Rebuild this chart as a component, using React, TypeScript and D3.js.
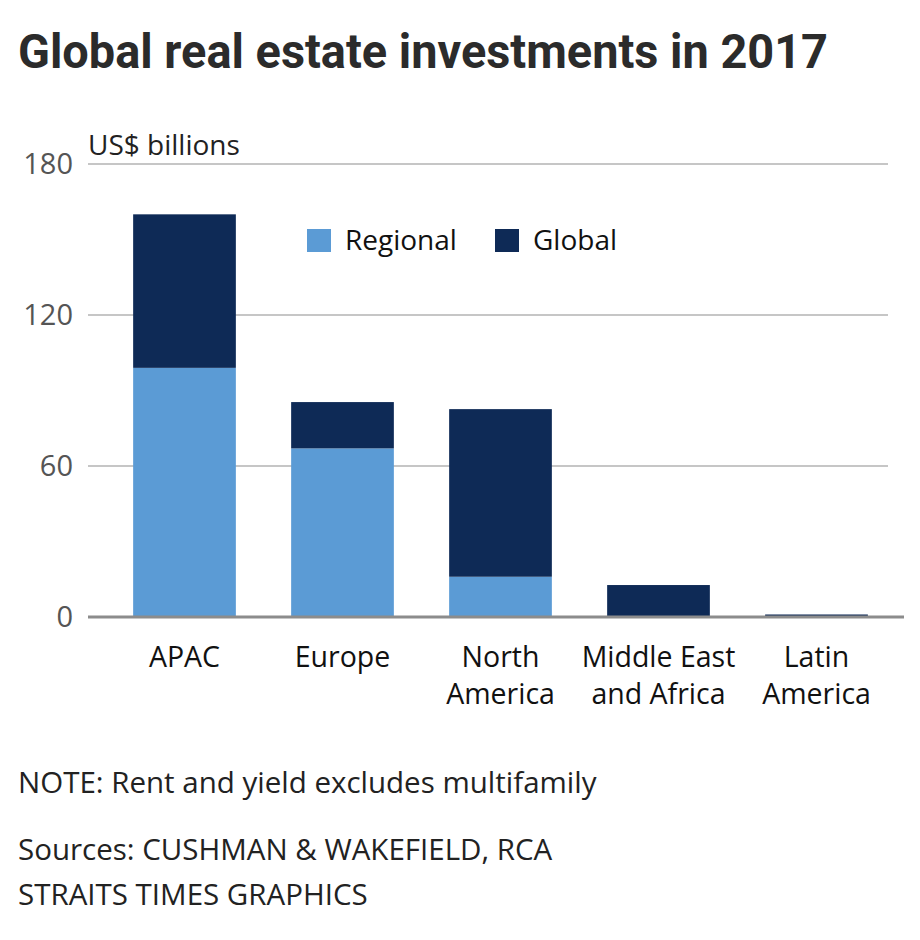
import * as d3 from "d3"

const categories = ["APAC", "Europe", "North America", "Middle East and Africa", "Latin America"]
const categoryLines = [["APAC"], ["Europe"], ["North", "America"], ["Middle East", "and Africa"], ["Latin", "America"]]
const regional = [99, 67, 16, 0, 0]
const global = [61, 18.4, 66.6, 12.7, 1]
const yTicks = [0, 60, 120, 180]
const seriesNames = ["Regional", "Global"]

const REGIONAL_COLOR = "#5b9bd5"
const GLOBAL_COLOR = "#0e2a56"
const FONT = "'Open Sans', Roboto, sans-serif"

export default function App() {
  const width = 920
  const height = 940

  const x = d3
    .scaleBand<string>()
    .domain(categories)
    .range([105.5, 895.5])
    .paddingInner(0.35)
    .paddingOuter(0.175)

  const y = d3.scaleLinear().domain([0, 180]).range([617, 164])

  const stacked = categories.map((c, i) => ({
    name: c,
    lines: categoryLines[i],
    regional: regional[i],
    global: global[i],
  }))

  return (
    <svg
      width={width}
      height={height}
      style={{ position: "absolute", left: 0, top: 0, background: "#fff" }}
      fontFamily={FONT}
    >
      {/* Title */}
      <text
        x={18}
        y={68}
        fontFamily="Roboto, sans-serif"
        fontWeight={700}
        fontSize={48}
        fill="#2b2b2b"
        textLength={810}
        lengthAdjust="spacingAndGlyphs"
      >
        Global real estate investments in 2017
      </text>

      {/* Unit label */}
      <text x={88} y={155} fontSize={28} fill="#222">
        US$ billions
      </text>

      {/* Grid lines + y tick labels */}
      {yTicks.map((t) => (
        <g key={t}>
          {t !== 0 && (
            <line x1={88} x2={888} y1={y(t)} y2={y(t)} stroke="#b3b3b3" strokeWidth={1.5} />
          )}
          <text
            x={73}
            y={y(t)}
            dy="0.35em"
            textAnchor="end"
            fontSize={29}
            fill="#555"
          >
            {t}
          </text>
        </g>
      ))}

      {/* Bars */}
      {stacked.map((d) => (
        <g key={d.name}>
          {d.regional > 0 && (
            <rect
              x={x(d.name)}
              width={x.bandwidth()}
              y={y(d.regional)}
              height={y(0) - y(d.regional)}
              fill={REGIONAL_COLOR}
            />
          )}
          <rect
            x={x(d.name)}
            width={x.bandwidth()}
            y={y(d.regional + d.global)}
            height={y(d.regional) - y(d.regional + d.global)}
            fill={GLOBAL_COLOR}
          />
        </g>
      ))}

      {/* Baseline */}
      <line x1={88} x2={904} y1={y(0)} y2={y(0)} stroke="#8c8c8c" strokeWidth={3} />

      {/* Category labels */}
      {stacked.map((d) => (
        <text
          key={d.name}
          x={(x(d.name) || 0) + x.bandwidth() / 2}
          y={667}
          textAnchor="middle"
          fontSize={28.5}
          fill="#111"
        >
          {d.lines.map((l, j) => (
            <tspan key={j} x={(x(d.name) || 0) + x.bandwidth() / 2} dy={j === 0 ? 0 : 37}>
              {l}
            </tspan>
          ))}
        </text>
      ))}

      {/* Legend */}
      {seriesNames.map((s, i) => {
        const lx = i === 0 ? 307 : 495
        return (
          <g key={s} transform={`translate(${lx},229)`}>
            <rect width={24} height={23} fill={i === 0 ? REGIONAL_COLOR : GLOBAL_COLOR} />
            <text x={38} y={21} fontSize={28} fill="#111">
              {s}
            </text>
          </g>
        )
      })}

      {/* Notes */}
      <text x={18} y={793} fontSize={29.5} fill="#222">
        NOTE: Rent and yield excludes multifamily
      </text>
      <text x={18} y={860} fontSize={29.5} fill="#222">
        Sources: CUSHMAN &amp; WAKEFIELD, RCA
      </text>
      <text x={18} y={905} fontSize={29.5} fill="#222">
        STRAITS TIMES GRAPHICS
      </text>
    </svg>
  )
}
